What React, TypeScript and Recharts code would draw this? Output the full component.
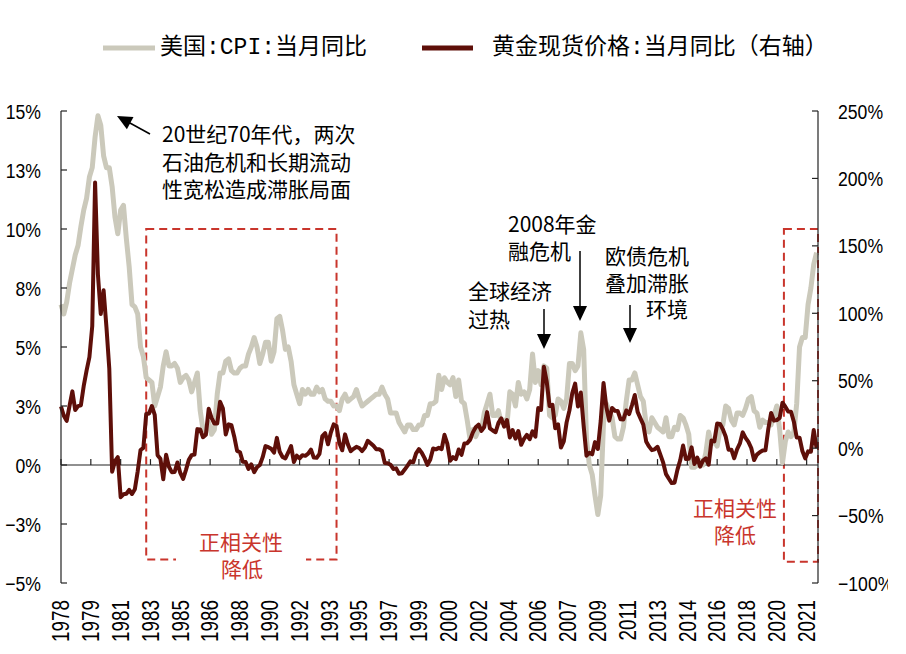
import React from "react";
import {
  LineChart,
  Line,
  XAxis,
  YAxis,
  ReferenceLine,
  ReferenceArea,
} from "recharts";

// bimonthly samples (Jan, Mar, May, Jul, Sep, Nov) from Jan 1978 to May 2022
const CPI_YOY = [
  6.8, 6.4, 6.9, 7.7, 8.3, 8.9,
  9.3, 10.1, 10.8, 11.3, 12.2, 12.6,
  13.9, 14.8, 14.4, 13.1, 12.6, 12.6,
  11.8, 10.5, 9.8, 10.8, 11.0, 9.6,
  8.4, 6.8, 6.7, 6.4, 5.0, 4.6,
  3.7, 3.6, 3.5, 2.5, 2.9, 3.3,
  4.2, 4.8, 4.2, 4.2, 4.3, 4.1,
  3.5, 3.7, 3.8, 3.6, 3.1, 3.5,
  3.9, 2.3, 1.5, 1.6, 1.8, 1.3,
  1.5, 3.0, 3.9, 3.9, 4.4, 4.5,
  4.0, 3.9, 3.9, 4.1, 4.2, 4.2,
  4.7, 5.0, 5.4, 5.0, 4.3, 4.7,
  5.2, 5.2, 4.4, 4.8, 6.2, 6.3,
  5.7, 4.9, 5.0, 4.4, 3.4, 3.0,
  2.6, 3.2, 3.0, 3.2, 3.0, 3.0,
  3.3, 3.1, 3.2, 2.8, 2.7, 2.7,
  2.5, 2.5, 2.3, 2.8, 3.0, 2.7,
  2.8, 2.9, 3.2, 2.8, 2.5, 2.6,
  2.7, 2.8, 2.9, 3.0, 3.0, 3.3,
  3.0, 2.8, 2.2, 2.2, 2.2, 1.8,
  1.6, 1.4, 1.7, 1.7, 1.5, 1.5,
  1.7, 1.7, 2.1, 2.1, 2.6, 2.6,
  2.7, 3.8, 3.2, 3.7, 3.5, 3.4,
  3.7, 2.9, 3.6, 2.7, 2.6, 1.9,
  1.1, 1.5, 1.2, 1.5, 1.5, 2.2,
  2.6, 3.0, 2.1, 2.1, 2.3, 1.8,
  1.9, 1.7, 3.1, 3.0, 2.5, 3.5,
  3.0, 3.1, 2.8, 3.2, 4.7, 3.5,
  4.0, 3.4, 4.2, 4.1, 2.1, 2.0,
  2.1, 2.8, 2.7, 2.4, 2.8, 4.3,
  4.3, 4.0, 4.2, 5.6, 4.9, 1.1,
  0.0, -0.4, -1.3, -2.1, -1.3, 1.8,
  2.6, 2.3, 2.0, 1.2, 1.1, 1.1,
  1.6, 2.7, 3.6, 3.6, 3.9, 3.4,
  2.9, 2.7, 1.7, 1.4, 2.0, 1.8,
  1.6, 1.5, 1.4, 2.0, 1.2, 1.2,
  1.6, 1.5, 2.1, 2.0, 1.7, 1.3,
  -0.1, -0.1, 0.0, 0.2, 0.0, 0.5,
  1.4, 0.9, 1.0, 0.8, 1.5, 1.7,
  2.5, 2.4, 1.9, 1.7, 2.2, 2.2,
  2.1, 2.4, 2.8, 2.9, 2.3, 2.2,
  1.6, 1.9, 1.8, 1.8, 1.7, 2.1,
  2.5, 1.5, 0.1, 1.0, 1.4, 1.2,
  1.4, 2.6, 5.0, 5.4, 5.4, 6.8,
  7.5, 8.5, 9.0,
];

const GOLD_YOY = [
  30.9, 24.0, 20.2, 31.3, 42.1, 28.3,
  31.2, 31.8, 46.1, 57.5, 67.5, 90.5,
  197, 128.7, 99.5, 117, 89.7, 58.9,
  -17.5, -9.7, -6.6, -36.4, -34.2, -33.8,
  -31.0, -34.0, -30.5, -17.2, -1.4, 0.2,
  25.3, 25.7, 31.2, 24.7, -5.2, -7.8,
  -23.0, -4.9, -13.8, -17.8, -17.7, -10.6,
  -18.4, -22.9, -16.1, -8.7, -5.2, -4.7,
  14.1, 13.8, 8.1, 9.9, 29.2, 22.4,
  18.2, 18.3, 34.4, 29.3, 10.1, 17.6,
  17.0, 8.5, -2.0, -3.0, -10.1, -10.3,
  -15.4, -12.0, -17.8, -14.2, -12.5, -6.7,
  1.5, 0.7, -0.5, -3.3, 7.6, -2.7,
  -6.5, -7.6, -3.2, 1.5, -10.3, -5.6,
  -7.6, -5.2, -5.7, -4.1, -1.1, -7.0,
  -7.2, -4.2, 8.9, 11.1, 2.9, 11.6,
  17.6, 16.4, 3.8, -1.6, 10.2, 2.8,
  -2.2, -0.5, 1.0, 0.1, -2.2, 0.4,
  5.5, 3.7, 1.8, -0.8, -0.8, -2.1,
  -11.1, -11.2, -12.3, -15.4, -15.0, -19.0,
  -18.6, -15.9, -13.0, -9.8, -10.5, -3.9,
  -0.7, -3.4, -7.4, -12.4, -8.4, -0.3,
  -0.9, 0.2, -0.7, 9.9, 3.4, -9.3,
  -6.7, -8.2, -1.0, -5.0, 3.4, 3.7,
  6.1, 11.7, 15.5, 17.4, 12.8, 15.7,
  26.7, 14.7, 13.1, 11.8, 18.7, 22.1,
  15.9, 20.8, 7.9, 13.4, 7.0, 12.7,
  2.5, 6.8, 9.9, 6.6, 12.5, 8.5,
  29.7, 28.3, 60.3, 49.3, 31.2, 32.1,
  14.8, 17.6, 0.4, 5.0, 19.1, 28.0,
  40.9, 47.9, 30.8, 41.2, 16.4, -5.6,
  -3.5, -4.6, 4.5, -0.6, 20.1, 48.3,
  30.2, 20.4, 29.8, 27.7, 27.5, 21.4,
  21.3, 27.9, 25.3, 31.8, 39.4, 26.9,
  22.1, 17.5, 5.0, 1.3, -1.5, -0.9,
  1.0, -4.8, -10.8, -19.3, -22.7, -25.9,
  -25.6, -16.1, -8.9, 1.9, -8.1, -7.8,
  0.6, -11.8, -7.0, -13.7, -9.2, -7.6,
  -12.3, 5.6, 5.0, 18.2, 18.0, 14.0,
  8.6, -1.1, -1.1, -7.5, -0.9, 3.5,
  11.7, 7.6, 4.6, 0.1, -8.8, -4.8,
  -3.0, -1.8, -1.5, 14.2, 26.1, 20.4,
  20.8, 22.4, 33.7, 30.7, 27.2, 27.0,
  19.6, 7.9, 7.8, -2.1, -7.6, -2.4,
  -2.7, 13.4, -0.1,
];

const YEAR_LABELS = [
  "1978", "1979", "1981", "1983", "1985", "1986", "1988", "1990", "1992",
  "1993", "1995", "1997", "1999", "2000", "2002", "2004", "2006", "2007",
  "2009", "2011", "2013", "2014", "2016", "2018", "2020", "2021",
];

const LEFT_TICKS = [-5, -2.5, 0, 2.5, 5, 7.5, 10, 12.5, 15];
const RIGHT_TICKS = [-100, -50, 0, 50, 100, 150, 200, 250];

const CPI_COLOR = "#CBC9BB";
const GOLD_COLOR = "#5E0F09";
const RED = "#C9352C";
const NUM_FONT = "'Liberation Sans',Arial,sans-serif";
const CJK_FONT = "'Noto Sans CJK SC','Noto Sans',sans-serif";
const LEGEND_FONT = `'Liberation Mono',${CJK_FONT}`;

// months since Jan 1978, one tick every 21 months
const X_TICKS = YEAR_LABELS.map((_, i) => i * 21);

const rows = CPI_YOY.map((v, i) => ({ m: i * 2, cpi: v, gold: GOLD_YOY[i] }));

const minus = (s: string) => s.replace("-", "\u2212");

function leftFmt(v: number) {
  const r = Math.sign(v) * Math.round(Math.abs(v));
  return minus(`${r}%`);
}

function rightFmt(v: number) {
  return minus(`${v}%`);
}

// narrow-looking numeric labels
function NumTick({ x, y, payload, textAnchor, fmt }: any) {
  return (
    <text
      transform={`translate(${x},${y}) scale(0.84,1)`}
      textAnchor={textAnchor}
      dominantBaseline="central"
      fontSize={21}
      fontFamily={NUM_FONT}
      fill="#000"
    >
      {fmt(payload.value)}
    </text>
  );
}

function YearTick({ x, y, payload }: any) {
  const label = YEAR_LABELS[Math.round(payload.value / 21)];
  return (
    <text
      transform={`translate(${x},${y + 9}) rotate(-90) scale(0.82,1)`}
      textAnchor="end"
      dominantBaseline="central"
      fontSize={23}
      fontFamily={NUM_FONT}
      fill="#000"
    >
      {label}
    </text>
  );
}

function Overlay() {
  const t = { fontSize: 21, fontFamily: CJK_FONT, fill: "#000", dominantBaseline: "central" as const };
  const r = { ...t, fill: RED, textAnchor: "middle" as const };
  return (
    <svg
      width={906}
      height={654}
      style={{ position: "absolute", left: 0, top: 0, pointerEvents: "none" }}
    >
      {/* legend */}
      <line x1={103} x2={155} y1={48} y2={48} stroke={CPI_COLOR} strokeWidth={5} />
      <text x={160} y={48} fontSize={23} dominantBaseline="central" fontFamily={LEGEND_FONT}>
        美国:CPI:当月同比
      </text>
      <line x1={422} x2={473} y1={48} y2={48} stroke={GOLD_COLOR} strokeWidth={5} />
      <text x={492} y={48} fontSize={23} dominantBaseline="central" fontFamily={LEGEND_FONT}>
        黄金现货价格:当月同比（右轴）
      </text>

      {/* 1970s note */}
      <text x={162} y={133} {...t}>20世纪70年代，两次</text>
      <text x={162} y={161} {...t}>石油危机和长期流动</text>
      <text x={162} y={188} {...t}>性宽松造成滞胀局面</text>
      <line x1={150} y1={134} x2={129} y2={122.5} stroke="#000" strokeWidth={1.5} />
      <polygon points="117,116 133.5,117.1 126.9,129.3" fill="#000" />

      {/* 2008 */}
      <text x={508} y={223} {...t}>2008年金</text>
      <text x={508} y={250} {...t}>融危机</text>
      <line x1={580} y1={251} x2={580} y2={307} stroke="#000" strokeWidth={1.5} />
      <polygon points="573,306 587,306 580,321" fill="#000" />

      {/* overheating */}
      <text x={468} y={290} {...t}>全球经济</text>
      <text x={468} y={318} {...t}>过热</text>
      <line x1={544} y1={309} x2={544} y2={335} stroke="#000" strokeWidth={1.5} />
      <polygon points="537,334 551,334 544,349" fill="#000" />

      {/* euro debt */}
      <text x={605} y={255} {...t}>欧债危机</text>
      <text x={605} y={282} {...t}>叠加滞胀</text>
      <text x={688} y={308} {...t} textAnchor="end">环境</text>
      <line x1={630} y1={305} x2={630} y2={329} stroke="#000" strokeWidth={1.5} />
      <polygon points="623,328 637,328 630,343" fill="#000" />

      {/* red notes */}
      <rect x={176} y={552} width={130} height={14} fill="#fff" />
      <text x={241} y={541} {...r}>正相关性</text>
      <text x={242} y={568} {...r}>降低</text>
      <text x={735} y={507} {...r}>正相关性</text>
      <text x={735} y={534} {...r}>降低</text>

      {/* the source picture is cropped here */}
      <rect x={888} y={0} width={18} height={654} fill="#fff" />
    </svg>
  );
}

export default function App() {
  return (
    <div style={{ position: "relative", width: 906, height: 654, background: "#fff" }}>
      <style>{"body{margin:0}"}</style>
      <LineChart
        width={906}
        height={654}
        data={rows}
        margin={{ top: 111, right: 8, bottom: 11, left: 6 }}
      >
        <XAxis
          dataKey="m"
          type="number"
          domain={[0, 533]}
          ticks={X_TICKS}
          interval={0}
          axisLine={false}
          tickLine={false}
          height={60}
          tick={<YearTick />}
        />
        <YAxis
          yAxisId="left"
          domain={[-5, 15]}
          ticks={LEFT_TICKS}
          interval={0}
          width={55}
          tickSize={-6}
          tickMargin={26}
          axisLine={{ stroke: "#222", strokeWidth: 1.2 }}
          tickLine={{ stroke: "#222", strokeWidth: 1.2 }}
          tick={<NumTick fmt={leftFmt} />}
        />
        <YAxis
          yAxisId="right"
          orientation="right"
          domain={[-100, 250]}
          ticks={RIGHT_TICKS}
          interval={0}
          width={80}
          tickSize={-6}
          tickMargin={26}
          axisLine={{ stroke: "#222", strokeWidth: 1.2 }}
          tickLine={{ stroke: "#222", strokeWidth: 1.2 }}
          tick={<NumTick fmt={rightFmt} />}
        />
        <ReferenceLine yAxisId="left" y={0} stroke="#222" strokeWidth={1.2} />
        {X_TICKS.map((m) => (
          <ReferenceLine
            key={m}
            yAxisId="left"
            segment={[{ x: m, y: 0 }, { x: m, y: 0.25 }]}
            stroke="#222"
            strokeWidth={1.2}
          />
        ))}
        <ReferenceArea
          yAxisId="left"
          x1={60}
          x2={194}
          y1={-4}
          y2={10}
          fill="none"
          stroke={RED}
          strokeWidth={2}
          strokeDasharray="8 5"
        />
        <ReferenceArea
          yAxisId="left"
          x1={509}
          x2={533}
          y1={-4.1}
          y2={10}
          fill="none"
          stroke={RED}
          strokeWidth={2}
          strokeDasharray="8 5"
        />
        <Line
          yAxisId="left"
          dataKey="cpi"
          stroke={CPI_COLOR}
          strokeWidth={5}
          dot={false}
          strokeLinejoin="round"
          isAnimationActive={false}
        />
        <Line
          yAxisId="right"
          dataKey="gold"
          stroke={GOLD_COLOR}
          strokeWidth={4}
          dot={false}
          strokeLinejoin="round"
          isAnimationActive={false}
        />
      </LineChart>
      <Overlay />
    </div>
  );
}
